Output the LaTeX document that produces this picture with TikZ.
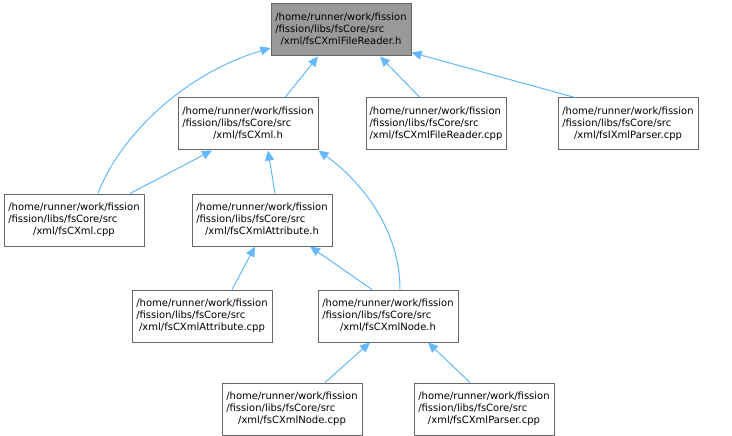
\documentclass[tikz,border=0pt]{standalone}
\usepackage{fontspec}
\setmainfont{DejaVu Sans}
\usetikzlibrary{arrows.meta}
\definecolor{incedge}{HTML}{63B8FF}
\definecolor{incframe}{HTML}{666666}
\definecolor{incroot}{HTML}{999999}
\newcommand{\incpath}[1]{\begin{tabular}{@{}l@{}}/home/runner/work/fission\\/fission/libs/fsCore/src\\\multicolumn{1}{@{}c@{}}{/xml/#1}\end{tabular}}

\begin{document}
\begin{tikzpicture}[x=1pt,y=1pt,
    file/.style={draw=incframe, fill=white, line width=1pt,
      minimum width=140pt, minimum height=52pt, inner sep=0pt,
      font=\fontsize{10}{12}\selectfont},
    root file/.style={file, fill=incroot},
    incl/.style={draw=incedge, line width=1pt, -{Triangle[length=10pt,width=9pt]}},
  ]
  \useasboundingbox (0,0) rectangle (732,-436);
  \node[root file] (root) at (341,-30) {\incpath{fsCXmlFileReader.h}};
  \node[file] (cxmlh) at (248,-124) {\incpath{fsCXml.h}};
  \node[file] (readercpp) at (436,-124) {\incpath{fsCXmlFileReader.cpp}};
  \node[file] (parsericpp) at (628,-124) {\incpath{fsIXmlParser.cpp}};
  \node[file] (cxmlcpp) at (74,-220) {\incpath{fsCXml.cpp}};
  \node[file] (attrh) at (262,-220) {\incpath{fsCXmlAttribute.h}};
  \node[file] (attrcpp) at (202,-316) {\incpath{fsCXmlAttribute.cpp}};
  \node[file] (nodeh) at (388,-316) {\incpath{fsCXmlNode.h}};
  \node[file] (nodecpp) at (292,-409) {\incpath{fsCXmlNode.cpp}};
  \node[file] (parsercpp) at (484,-409) {\incpath{fsCXmlParser.cpp}};

  % who includes whom
  \draw[incl] ([xshift=24pt]cxmlcpp.north) .. controls (118,-140) and (180,-75) .. ([yshift=-18pt]root.west);
  \draw[incl] ([xshift=37pt]cxmlh.north) -- ([xshift=-23pt]root.south);
  \draw[incl] ([xshift=-16pt]readercpp.north) -- ([xshift=39pt]root.south);
  \draw[incl] ([xshift=-53pt]parsericpp.north) -- ([yshift=4pt]root.south east);
  \draw[incl] ([xshift=56pt]cxmlcpp.north) -- ([xshift=-36pt]cxmlh.south);
  \draw[incl] ([xshift=13pt]attrh.north) -- ([xshift=20pt]cxmlh.south);
  \draw[incl] ([xshift=12pt]nodeh.north) .. controls (400,-230) and (362,-182) .. (cxmlh.south east);
  \draw[incl] ([xshift=30pt]attrcpp.north) -- ([xshift=-7pt]attrh.south);
  \draw[incl] ([xshift=-16pt]nodeh.north) -- ([xshift=48pt]attrh.south);
  \draw[incl] ([xshift=33pt]nodecpp.north) -- ([xshift=-18pt]nodeh.south);
  \draw[incl] ([xshift=-14pt]parsercpp.north) -- ([xshift=40pt]nodeh.south);
\end{tikzpicture}
\end{document}
